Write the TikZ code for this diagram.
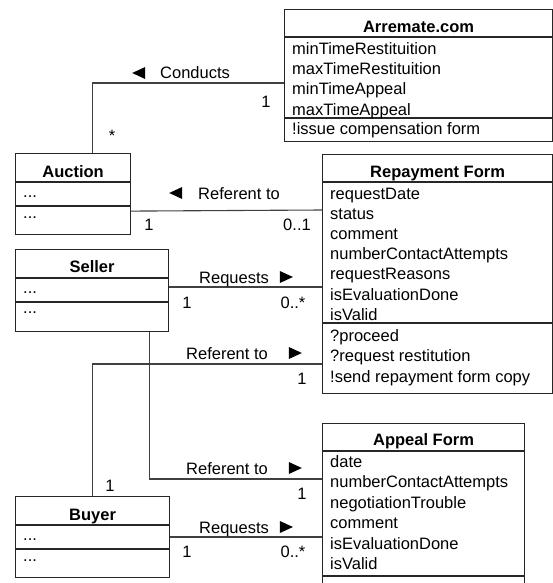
\documentclass[tikz,border=0pt]{standalone}
\usepackage{fontspec}
\setmainfont{Liberation Sans}
\usetikzlibrary{positioning,calc}

\newcommand{\umlfont}{\fontsize{16.5}{20}\selectfont}
\newcommand{\ltri}{\tikz[baseline=0pt]\fill (0pt,6pt) -- (13pt,12pt) -- (13pt,0pt) -- cycle;}
\newcommand{\rtri}{\tikz[baseline=0pt]\fill (0pt,0pt) -- (0pt,12pt) -- (13pt,6pt) -- cycle;}

\tikzset{
  classbox/.style={draw=black!85, line width=1.1pt, inner sep=0pt, anchor=north west},
  compline/.style={draw=black!85, line width=1.1pt},
  assoc/.style={draw=black!75, line width=1.1pt},
  ctitle/.style={anchor=base, inner sep=0pt, font=\umlfont\bfseries},
  attr/.style={anchor=base west, inner sep=0pt},
  mult/.style={anchor=base, inner sep=0pt},
  rolelabel/.style={anchor=base west, inner sep=0pt}
}

\begin{document}
\begin{tikzpicture}[x=1pt, y=-1pt, every node/.style={font=\umlfont}]
\clip (0,0) rectangle (553,583);

% Arremate.com
\node[classbox, minimum width=268pt, minimum height=132pt] (arremate) at (284,9) {};
\draw[compline] ([yshift=-28pt]arremate.north west) -- ([yshift=-28pt]arremate.north east);
\draw[compline] ([yshift=-109pt]arremate.north west) -- ([yshift=-109pt]arremate.north east);
\node[ctitle] (arrtitle) at ([yshift=-24pt]arremate.north) {Arremate.com};
\node[attr] (arra1) at (292,55) {minTimeRestituition};
\node[attr] (arra2) at (292,75) {maxTimeRestituition};
\node[attr] (arra3) at (292,95) {minTimeAppeal};
\node[attr] (arra4) at (292,115) {maxTimeAppeal};
\node[attr] (arro1) at (292,135) {!issue compensation form};

% Repayment Form
\node[classbox, minimum width=230pt, minimum height=239pt] (repay) at (322,154) {};
\draw[compline] ([yshift=-28pt]repay.north west) -- ([yshift=-28pt]repay.north east);
\draw[compline] ([yshift=-169pt]repay.north west) -- ([yshift=-169pt]repay.north east);
\node[ctitle] (reptitle) at ([yshift=-23pt]repay.north) {Repayment Form};
\node[attr] (repa1) at (330,199) {requestDate};
\node[attr] (repa2) at (330,219.2) {status};
\node[attr] (repa3) at (330,239.4) {comment};
\node[attr] (repa4) at (330,259.6) {numberContactAttempts};
\node[attr] (repa5) at (330,279.8) {requestReasons};
\node[attr] (repa6) at (330,300) {isEvaluationDone};
\node[attr] (repa7) at (330,320.2) {isValid};
\node[attr] (repo1) at (330,341) {?proceed};
\node[attr] (repo2) at (330,361.5) {?request restitution};
\node[attr] (repo3) at (330,382) {!send repayment form copy};

% Appeal Form
\node[classbox, minimum width=202pt, minimum height=180pt] (appeal) at (322,423) {};
\draw[compline] ([yshift=-28pt]appeal.north west) -- ([yshift=-28pt]appeal.north east);
\draw[compline] ([yshift=-153pt]appeal.north west) -- ([yshift=-153pt]appeal.north east);
\node[ctitle] (apptitle) at ([yshift=-22pt]appeal.north) {Appeal Form};
\node[attr] (appa1) at (330,467) {date};
\node[attr] (appa2) at (330,487.5) {numberContactAttempts};
\node[attr] (appa3) at (330,508) {negotiationTrouble};
\node[attr] (appa4) at (330,528.5) {comment};
\node[attr] (appa5) at (330,549) {isEvaluationDone};
\node[attr] (appa6) at (330,569.5) {isValid};

% Auction, Seller, Buyer
\node[classbox, minimum width=115pt, minimum height=81pt] (auction) at (15,153) {};
\draw[compline] ([yshift=-29pt]auction.north west) -- ([yshift=-29pt]auction.north east);
\draw[compline] ([yshift=-53pt]auction.north west) -- ([yshift=-53pt]auction.north east);
\node[ctitle] (auctitle) at ([yshift=-24pt]auction.north) {Auction};
\node[attr] (auca1) at (23,197) {...};
\node[attr] (auco1) at (23,218) {...};

\node[classbox, minimum width=153pt, minimum height=82pt] (seller) at (15,249) {};
\draw[compline] ([yshift=-29pt]seller.north west) -- ([yshift=-29pt]seller.north east);
\draw[compline] ([yshift=-53pt]seller.north west) -- ([yshift=-53pt]seller.north east);
\node[ctitle] (seltitle) at ([yshift=-23pt]seller.north) {Seller};
\node[attr] (sela1) at (23,293) {...};
\node[attr] (selo1) at (23,313) {...};

\node[classbox, minimum width=154pt, minimum height=81pt] (buyer) at (15,496) {};
\draw[compline] ([yshift=-29pt]buyer.north west) -- ([yshift=-29pt]buyer.north east);
\draw[compline] ([yshift=-53pt]buyer.north west) -- ([yshift=-53pt]buyer.north east);
\node[ctitle] (buytitle) at ([yshift=-24pt]buyer.north) {Buyer};
\node[attr] (buya1) at (23,540) {...};
\node[attr] (buyo1) at (23,561) {...};

% Associations
\draw[assoc] ([yshift=-74pt]arremate.north west) -| ([xshift=19.5pt]auction.north);
\draw[assoc] ([yshift=24pt]auction.south east) -- ([yshift=-56pt]repay.north west);
\draw[assoc] ([yshift=-38pt]seller.north east) -- ([yshift=-133pt]repay.north west);
\draw[assoc] ([xshift=57.5pt]seller.south) |- ([yshift=-56pt]appeal.north west);
\draw[assoc] (buyer.north) |- ([yshift=-210pt]repay.north west);
\draw[assoc] ([yshift=-41pt]buyer.north east) -- ([yshift=-114pt]appeal.north west);

% Association names
\node[rolelabel] (conducts) at (132,79) {\ltri\hspace{15pt}Conducts};
\node[rolelabel] (refauc) at (169,199) {\ltri\hspace{16pt}Referent to};
\node[rolelabel] (reqsel) at (199,283) {Requests\hspace{11pt}\rtri};
\node[rolelabel] (refbuy) at (186,359) {Referent to\hspace{21pt}\rtri};
\node[rolelabel] (refsel) at (186,474) {Referent to\hspace{21pt}\rtri};
\node[rolelabel] (reqbuy) at (199,533) {Requests\hspace{11pt}\rtri};

% Multiplicities
\node[mult] (m1) at (266,108) {1}; \node[mult] (m2) at (112,142) {*};
\node[mult] (m3) at (149,230) {1}; \node[mult] (m4) at (297,230) {0..1};
\node[mult] (m5) at (187,308) {1}; \node[mult] (m6) at (293,308) {0..*};
\node[mult] (m7) at (302,384) {1}; \node[mult] (m8) at (110,491) {1};
\node[mult] (m9) at (302,499) {1};
\node[mult] (m10) at (187,557) {1}; \node[mult] (m11) at (293,557) {0..*};
\end{tikzpicture}
\end{document}
